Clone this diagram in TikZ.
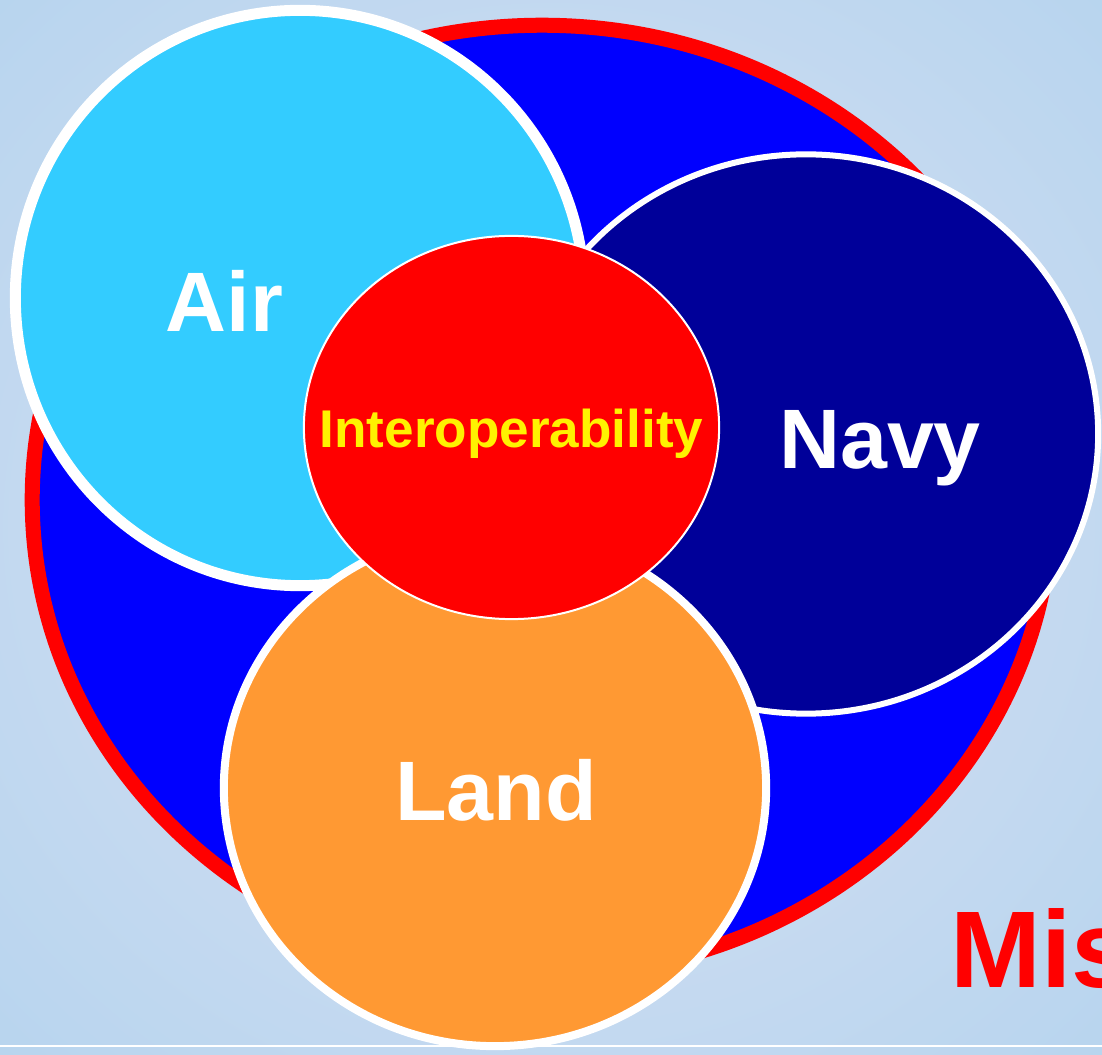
\documentclass[tikz,border=0pt]{standalone}
\usepackage{fontspec}
\setmainfont{Liberation Sans}
\usetikzlibrary{shapes.geometric}
\definecolor{bgdark}{RGB}{158,203,234}
\definecolor{bglight}{RGB}{201,219,241}
\definecolor{airblue}{HTML}{33CCFF}
\definecolor{navyblue}{HTML}{000099}
\definecolor{landorange}{HTML}{FF9933}
\pgfdeclareradialshading{sky}{\pgfpoint{0bp}{0bp}}{color(0bp)=(bglight); color(18bp)=(bglight); color(62bp)=(bgdark); color(100bp)=(bgdark)}

\begin{document}
\begin{tikzpicture}[x=0.01cm, y=-0.01cm,
	disc/.style={ellipse, draw=white, inner sep=0pt},
	tag/.style={inner sep=0pt, anchor=base, text=white, font=\fontsize{24}{26}\selectfont\bfseries}]
	\useasboundingbox (0,0) rectangle (1102,1055);
	\shade[shading=sky] (0,0) rectangle (1102,1055);
	\draw[white, line width=0.6pt] (0,1046) -- (1102,1046);
	% big disc and the three services
	\node[disc, draw=red, fill=blue, line width=0.15cm, minimum width=10.19cm, minimum height=9.49cm] (joint) at (542,500) {};
	\node[disc, fill=navyblue, line width=0.06cm, minimum width=5.84cm, minimum height=5.59cm] (navy) at (806,434) {};
	\node[disc, fill=airblue, line width=0.11cm, minimum width=5.69cm, minimum height=5.75cm] (air) at (300,298) {};
	\node[disc, fill=landorange, line width=0.08cm, minimum width=5.42cm, minimum height=5.16cm] (land) at (495,788) {};
	\node[disc, fill=red, line width=0.02cm, minimum width=4.15cm, minimum height=3.83cm] (inter) at (511.5,427.5) {};
	% labels
	\node[tag] (airtxt) at ([xshift=-0.755cm, yshift=-0.33cm]air.center) {Air};
	\node[tag] (navytxt) at ([xshift=0.74cm, yshift=-0.34cm]navy.center) {Navy};
	\node[tag] (landtxt) at ([xshift=0.01cm, yshift=-0.32cm]land.center) {Land};
	\node[tag, text=yellow, font=\fontsize{15.1}{17}\selectfont\bfseries] (intertxt) at ([yshift=-0.195cm]inter.center) {Interoperability};
	\node[tag, anchor=base west, text=red, font=\fontsize{31}{33}\selectfont\bfseries] (mistxt) at (950,988) {Mis};
\end{tikzpicture}
\end{document}
